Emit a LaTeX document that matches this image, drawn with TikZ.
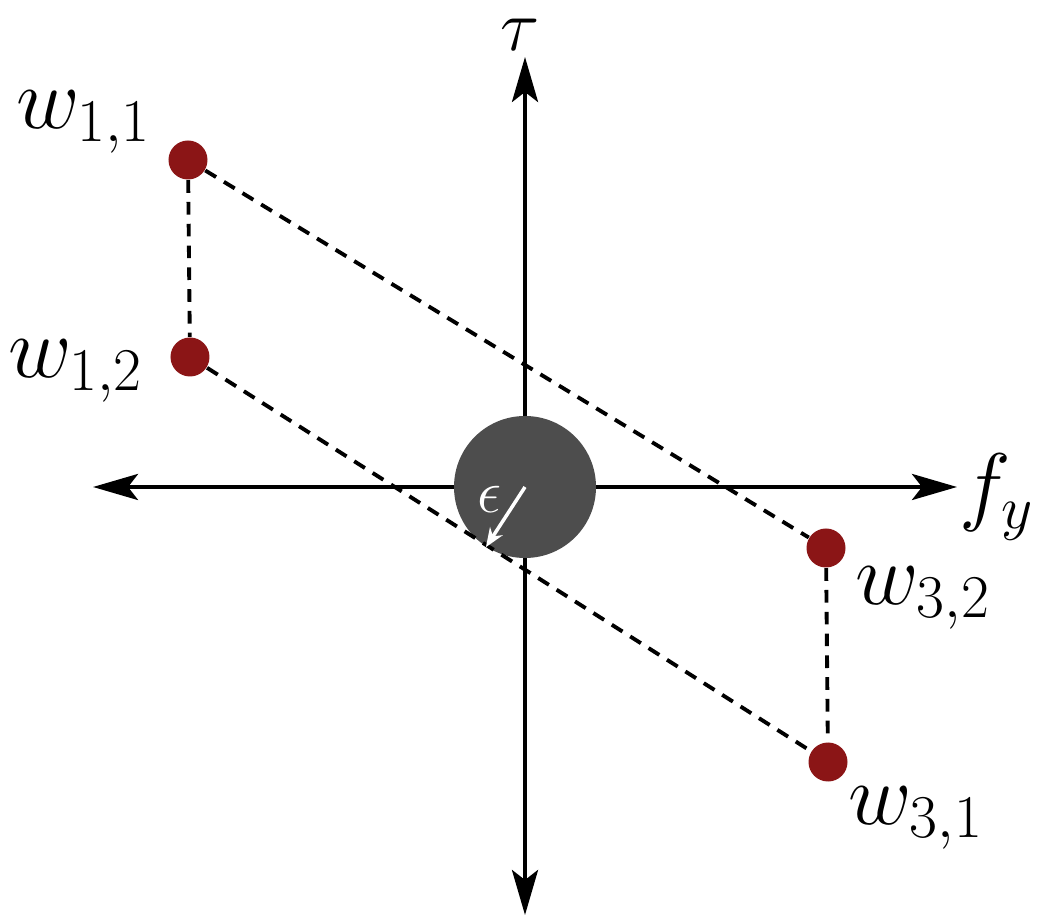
\documentclass[tikz,border=0pt]{standalone}
\usepackage{amsmath,amssymb}
\usepackage{xcolor}
\usetikzlibrary{positioning,arrows.meta,calc}
\definecolor{ptred}{RGB}{139,21,22}
\definecolor{ballgray}{RGB}{77,77,77}

\begin{document}
\begin{tikzpicture}[font=\fontsize{25}{29}\selectfont, >={Stealth[length=4.5mm,width=2.6mm,inset=1mm]},
  axis/.style={<->, line width=1.2pt},
  wpt/.style={circle, fill=ptred, minimum size=3.9mm, inner sep=0pt},
  link/.style={line width=1.1pt, dash pattern=on 3.6pt off 2.6pt}]
\useasboundingbox (-5.25,-4.32) rectangle (5.27,4.87);
% axes
\coordinate (top) at (0,4.30);
\coordinate (bot) at (0,-4.28);
\coordinate (lft) at (-4.32,0);
\coordinate (rgt) at (4.32,0);
\draw[axis] (bot) -- (top);
\draw[axis] (lft) -- (rgt);
\node[above=0.6mm of top, inner sep=0pt, xshift=-0.5mm, font=\huge] (tau) {$\tau$};
\node[right=0.2mm of rgt, inner sep=0pt, yshift=-1mm] (fy) {$f_y$};
% ball
\node[circle, fill=ballgray, minimum size=14.2mm, inner sep=0pt] (ball) at (0,0) {};
% points
\node[wpt] (w11) at (-3.37,3.27) {};
\node[wpt] (w12) at (-3.35,1.30) {};
\node[wpt] (w32) at (3.01,-0.61) {};
\node[wpt] (w31) at (3.03,-2.75) {};
\draw[link] (w11) -- (w12);
\draw[link] (w32) -- (w31);
\draw[link] (w11) -- (w32);
\draw[link] (w12) -- (w31);
\node[above left=-2mm and 1mm of w11] (l11) {$w_{1,1}$};
\node[left=1.4mm of w12, yshift=-1.4mm] (l12) {$w_{1,2}$};
\node[below right=-0.8mm and 0.3mm of w32] (l32) {$w_{3,2}$};
\node[below right=-0.2mm and -0.6mm of w31] (l31) {$w_{3,1}$};
% epsilon
\node[text=white, font=\fontsize{19}{22}\selectfont] (eps) at (-0.36,-0.12) {$\epsilon$};
\draw[white, line width=1pt, -{Stealth[length=1.9mm,width=1.5mm]}] (ball.center) -- (ball.237);
\end{tikzpicture}
\end{document}
